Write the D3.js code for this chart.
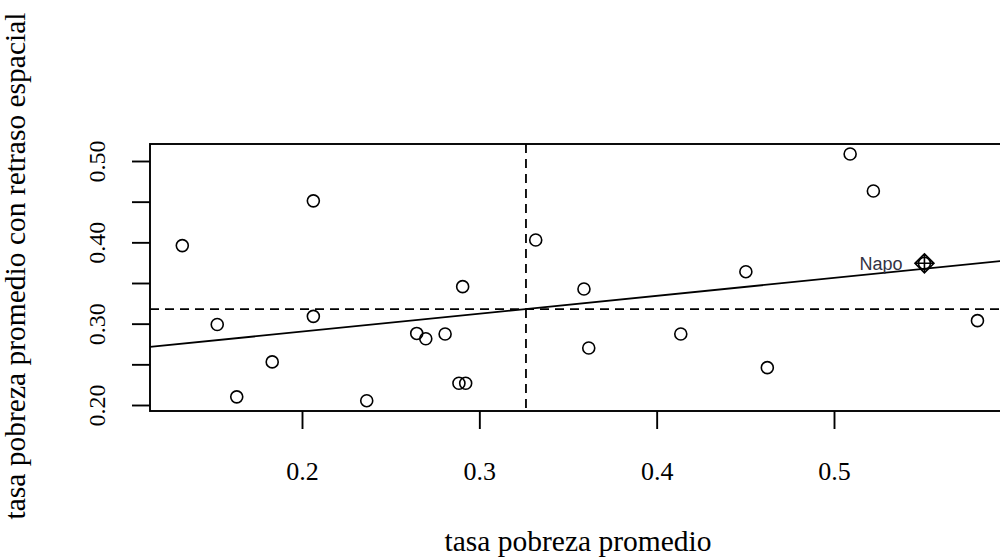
<!DOCTYPE html>
<html>
<head>
<meta charset="utf-8">
<script src="https://cdn.jsdelivr.net/npm/d3@7"></script>
<style>
  body { margin: 0; background: #fff; }
  svg { display: block; }
</style>
</head>
<body>
<div id="chart"></div>
<script>
// tasa de pobreza promedio (x) y su retraso espacial (y)
var pobreza = [0.1325, 0.1522, 0.1632, 0.1832, 0.2064, 0.2064, 0.2365, 0.2647, 0.2698, 0.2807, 0.2906, 0.2885,
               0.2923, 0.3318, 0.3590, 0.3617, 0.4136, 0.4503, 0.4624, 0.5091, 0.5222, 0.5510, 0.5809];
var retraso = [0.396, 0.299, 0.210, 0.253, 0.451, 0.309, 0.2053, 0.288, 0.2815, 0.2873, 0.3455, 0.2267,
               0.2267, 0.4029, 0.3426, 0.2701, 0.2873, 0.3639, 0.2459, 0.5086, 0.4631, 0.3742, 0.3037];
var etiquetas = ["", "", "", "", "", "", "", "", "", "", "", "",
                 "", "", "", "", "", "", "", "", "", "Napo", ""];

var xTicks = [0.2, 0.3, 0.4, 0.5];
var xTickLabels = ["0.2", "0.3", "0.4", "0.5"];
var yTicks = [0.20, 0.25, 0.30, 0.35, 0.40, 0.45, 0.50];
var yTickLabels = ["0.20", "", "0.30", "", "0.40", "", "0.50"];

var mediaX = 0.3263, mediaY = 0.318, pendiente = 0.22;

(function () {
    var width = 1000, height = 559,
        box = { left: 150, top: 144, right: 1040, bottom: 411 };

    var svg = d3.select("#chart").append("svg")
        .attr("width", width).attr("height", height);

    var x = d3.scaleLinear().domain([0.2, 0.5]).range([302, 834]),
        y = d3.scaleLinear().domain([0.2, 0.5]).range([405, 161]);

    var serif = "'Liberation Serif', 'Times New Roman', serif";

    // ejes
    var gx = svg.append("g")
        .attr("transform", "translate(0," + box.bottom + ")")
        .call(d3.axisBottom(x).tickValues(xTicks).tickSize(18).tickPadding(33)
            .tickFormat(function (d, i) { return xTickLabels[i]; }));
    gx.select(".domain").remove();
    gx.selectAll("line").attr("stroke", "#000").attr("stroke-width", 1.9);
    gx.selectAll("text").attr("fill", "#000")
        .style("font-family", serif).style("font-size", "26px");

    var gy = svg.append("g")
        .attr("transform", "translate(" + box.left + ",0)")
        .call(d3.axisLeft(y).tickValues(yTicks).tickSize(18)
            .tickFormat(function (d, i) { return yTickLabels[i]; }));
    gy.select(".domain").remove();
    gy.selectAll("line").attr("stroke", "#000").attr("stroke-width", 1.9);
    gy.selectAll("text").attr("fill", "#000")
        .attr("x", 0).attr("dy", null)
        .attr("text-anchor", "middle")
        .attr("transform", "translate(-45,0) rotate(-90)")
        .style("font-family", serif).style("font-size", "24px");

    // caja
    svg.append("rect")
        .attr("x", box.left).attr("y", box.top)
        .attr("width", box.right - box.left).attr("height", box.bottom - box.top)
        .attr("fill", "none").attr("stroke", "#000").attr("stroke-width", 1.9);

    // medias
    svg.append("line")
        .attr("x1", x(mediaX)).attr("x2", x(mediaX))
        .attr("y1", box.top).attr("y2", box.bottom)
        .attr("stroke", "#000").attr("stroke-width", 1.8).attr("stroke-dasharray", "9,6");
    svg.append("line")
        .attr("x1", box.left).attr("x2", box.right)
        .attr("y1", y(mediaY)).attr("y2", y(mediaY))
        .attr("stroke", "#000").attr("stroke-width", 1.8).attr("stroke-dasharray", "9,6");

    // recta de regresion
    var x0 = x.invert(box.left), x1 = x.invert(box.right);
    svg.append("line")
        .attr("x1", box.left).attr("y1", y(mediaY + pendiente * (x0 - mediaX)))
        .attr("x2", box.right).attr("y2", y(mediaY + pendiente * (x1 - mediaX)))
        .attr("stroke", "#000").attr("stroke-width", 1.8);

    // puntos
    var datos = pobreza.map(function (v, i) { return [v, retraso[i], etiquetas[i]]; });
    svg.selectAll("circle.pt")
        .data(datos).enter()
        .append("circle")
        .attr("class", "pt")
        .attr("cx", function (d) { return x(d[0]); })
        .attr("cy", function (d) { return y(d[1]); })
        .attr("r", 6)
        .attr("fill", "none").attr("stroke", "#000").attr("stroke-width", 1.6);

    // observaciones influyentes
    var infl = datos.filter(function (d) { return d[2] !== ""; });
    var g = svg.selectAll("g.infl").data(infl).enter().append("g")
        .attr("class", "infl")
        .attr("transform", function (d) { return "translate(" + x(d[0]) + "," + y(d[1]) + ")"; });
    g.append("path")
        .attr("d", "M0,-9.5L9.5,0L0,9.5L-9.5,0Z M0,-9.5L0,9.5 M-9.5,0L9.5,0")
        .attr("fill", "none").attr("stroke", "#000").attr("stroke-width", 1.6);
    g.append("text")
        .attr("x", -22).attr("y", 7)
        .attr("text-anchor", "end")
        .attr("fill", "#333344")
        .style("font-family", "'Liberation Sans', Arial, sans-serif")
        .style("font-size", "18px")
        .text(function (d) { return d[2]; });

    // titulos
    svg.append("text")
        .attr("x", 578).attr("y", 551)
        .attr("text-anchor", "middle")
        .style("font-family", serif).style("font-size", "29.5px")
        .text("tasa pobreza promedio");
    svg.append("text")
        .attr("transform", "translate(25,266) rotate(-90)")
        .attr("text-anchor", "middle")
        .style("font-family", serif).style("font-size", "29.5px")
        .text("tasa pobreza promedio con retraso espacial");
}());
</script>
</body>
</html>
